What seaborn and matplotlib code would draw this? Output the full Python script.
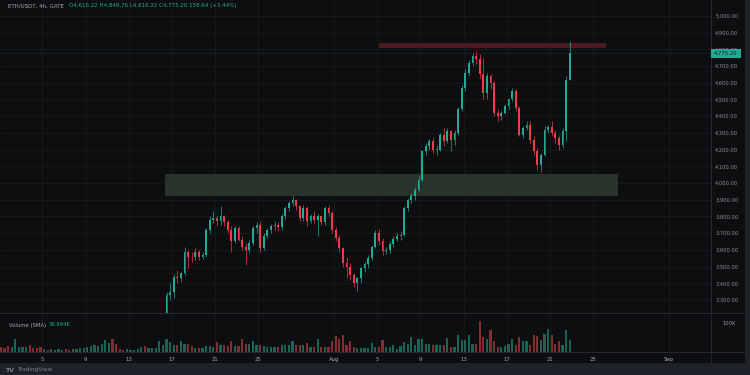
import numpy as np
import pandas as pd
import matplotlib
matplotlib.use("Agg")
import matplotlib.pyplot as plt
from matplotlib.patches import Rectangle
from matplotlib.lines import Line2D
import seaborn as sns

# ---------------- data (8h candles from Jul 1, 00:00) ----------------
first_open = 2485
closes = [
    2440, 2410, 2405, 2480, 2560, 2570, 2600, 2610, 2590, 2560, 2520, 2510,
    2520, 2515, 2515, 2530, 2550, 2570, 2560, 2540, 2540, 2560, 2590, 2610,
    2640, 2700, 2770, 2800, 2880, 2950, 3000, 2970, 2960, 2950, 2930, 2940,
    2950, 2960, 2970, 3050, 3010, 3020, 3080, 3100, 3140, 3180, 3330, 3350,
    3440, 3430, 3460, 3590, 3560, 3555, 3590, 3560, 3570, 3720, 3780, 3790,
    3770, 3800, 3765, 3720, 3650, 3730, 3660, 3620, 3600, 3640, 3730, 3750,
    3610, 3680, 3720, 3740, 3750, 3737, 3800, 3850, 3880, 3900, 3860, 3790,
    3850, 3770, 3800, 3780, 3800, 3765, 3850, 3820, 3720, 3670, 3610, 3520,
    3500, 3450, 3400, 3430, 3490, 3515, 3550, 3620, 3700, 3650, 3595, 3600,
    3635, 3665, 3680, 3690, 3850, 3900, 3925, 3960, 4020, 4190, 4220, 4250,
    4200, 4200, 4290, 4250, 4310, 4260, 4300, 4440, 4570, 4660, 4720, 4760,
    4745, 4650, 4540, 4640, 4600, 4420, 4400, 4420, 4460, 4500, 4550, 4450,
    4290, 4330, 4350, 4260, 4190, 4110, 4170, 4320, 4335, 4300, 4270, 4230,
    4310, 4616, 4775,
]
highs = [
    2500, 2450, 2430, 2490, 2575, 2590, 2620, 2630, 2615, 2600, 2570, 2535,
    2535, 2530, 2525, 2540, 2560, 2585, 2580, 2565, 2555, 2570, 2600, 2625,
    2650, 2710, 2780, 2820, 2890, 2960, 3010, 3010, 2990, 2975, 2960, 2950,
    2965, 2975, 2990, 3070, 3060, 3035, 3090, 3115, 3160, 3200, 3345, 3400,
    3455, 3480, 3470, 3620, 3600, 3590, 3610, 3600, 3590, 3730, 3800, 3830,
    3810, 3860, 3810, 3780, 3740, 3745, 3745, 3680, 3640, 3660, 3740, 3765,
    3770, 3700, 3730, 3755, 3770, 3765, 3815, 3865, 3890, 3922, 3905, 3870,
    3870, 3860, 3815, 3830, 3815, 3810, 3865, 3870, 3830, 3735, 3690, 3620,
    3560, 3520, 3460, 3440, 3500, 3530, 3570, 3630, 3720, 3725, 3670, 3620,
    3650, 3680, 3700, 3710, 3860, 3910, 3940, 3975, 4040, 4200, 4240, 4265,
    4270, 4230, 4300, 4330, 4330, 4320, 4320, 4455, 4585, 4680, 4735, 4780,
    4790, 4770, 4750, 4660, 4655, 4610, 4440, 4430, 4470, 4510, 4570, 4560,
    4460, 4340, 4370, 4370, 4280, 4210, 4180, 4340, 4350, 4370, 4320, 4290,
    4330, 4640, 4848,
]
lows = [
    2430, 2395, 2380, 2395, 2470, 2540, 2560, 2585, 2575, 2550, 2500, 2495,
    2500, 2505, 2505, 2505, 2525, 2545, 2545, 2525, 2525, 2530, 2555, 2585,
    2600, 2635, 2695, 2760, 2790, 2870, 2940, 2950, 2930, 2930, 2910, 2920,
    2925, 2940, 2950, 2965, 2995, 3000, 3000, 3060, 3085, 3120, 3170, 3300,
    3310, 3400, 3410, 3450, 3490, 3530, 3540, 3540, 3545, 3560, 3700, 3760,
    3740, 3750, 3740, 3700, 3590, 3640, 3650, 3600, 3510, 3580, 3630, 3700,
    3590, 3600, 3670, 3700, 3720, 3710, 3720, 3785, 3835, 3860, 3840, 3770,
    3770, 3740, 3760, 3760, 3680, 3750, 3750, 3800, 3700, 3650, 3590, 3500,
    3430, 3420, 3380, 3355, 3400, 3470, 3490, 3540, 3610, 3630, 3570, 3575,
    3580, 3620, 3650, 3660, 3680, 3830, 3880, 3900, 3950, 4010, 4170, 4200,
    4180, 4170, 4190, 4220, 4240, 4190, 4230, 4290, 4430, 4550, 4640, 4700,
    4710, 4630, 4500, 4500, 4560, 4400, 4370, 4380, 4410, 4440, 4490, 4430,
    4280, 4270, 4320, 4240, 4170, 4080, 4065, 4160, 4300, 4280, 4240, 4200,
    4210, 4250, 4616,
]
volumes_k = [
    17, 14, 20, 17, 45, 17, 17, 17, 24, 14, 14, 17,
    10, 7, 10, 7, 10, 7, 10, 7, 10, 10, 14, 14,
    17, 21, 24, 21, 28, 41, 31, 45, 28, 10, 7, 10,
    7, 7, 10, 17, 21, 14, 14, 14, 38, 24, 45, 35,
    24, 24, 38, 28, 28, 21, 14, 14, 14, 21, 21, 17,
    35, 24, 24, 21, 38, 21, 21, 45, 28, 28, 38, 24,
    24, 21, 17, 17, 17, 17, 24, 24, 24, 38, 24, 24,
    24, 31, 17, 17, 45, 17, 17, 17, 38, 55, 45, 59,
    24, 38, 17, 14, 14, 14, 14, 31, 17, 17, 41, 17,
    17, 24, 10, 21, 35, 28, 52, 24, 45, 45, 28, 28,
    24, 24, 24, 24, 48, 17, 17, 59, 41, 41, 59, 28,
    28, 107, 52, 45, 76, 38, 17, 17, 21, 28, 45, 24,
    52, 38, 38, 24, 59, 55, 41, 62, 79, 59, 28, 38,
    24, 76, 41,
]
price_ticks = list(range(3300, 5001, 100))
date_tick_days = [4, 8, 12, 16, 20, 24, 31, 35, 39, 43, 47, 51, 55, 62]
date_tick_labels = ["5", "9", "13", "17", "21", "25", "Aug",
                    "5", "9", "13", "17", "21", "25", "Sep"]
# zones: (start day, end day, low price, high price)
resistance_zone = (35.18, 56.19, 4805, 4835)
support_zone = (15.36, 57.31, 3924, 4054)
last_price = 4775.20
header_symbol = "ETH/USDT, 4h, GATE"
header_values = "O4,616.22 H4,848.76 L4,616.22 C4,775.20 158.64 (+3.44%)"
volume_sma = "39.994K"

# ---------------- styling ----------------
BG = "#0c0e10"
FRAME = "#1e2127"
GRID = "#171a1d"
SEP = "#262a31"
TXT = "#a9acb4"
UP = "#22ab94"
DN = "#ef3b4b"
VUP = "#1b6352"
VDN = "#822c34"

sns.set_theme(style="dark", rc={
    "axes.facecolor": BG, "figure.facecolor": FRAME,
    "grid.color": GRID, "text.color": TXT,
    "xtick.color": TXT, "ytick.color": TXT,
})
plt.rcParams["font.family"] = ["DejaVu Sans"]

df = pd.DataFrame({"close": closes, "high": highs, "low": lows, "vol": volumes_k})
df["open"] = [first_open] + closes[:-1]
df["day"] = np.arange(len(df)) / 3 + 1 / 6
df["up"] = df["close"] >= df["open"]

W, H = 750, 375
fig = plt.figure(figsize=(7.5, 3.75), dpi=100)
fig.add_artist(Rectangle((0, 12 / H), 745 / W, 363 / H, transform=fig.transFigure,
                         facecolor=BG, edgecolor="none", zorder=0))

ax = fig.add_axes([0, 62 / H, 711 / W, 313 / H])
axv = fig.add_axes([0, 23 / H, 711 / W, 39 / H], sharex=ax)

xmin, xmax = 0.9 / 10.8, 711.9 / 10.8
ax.set_xlim(xmin, xmax)
ax.set_ylim(3222.1, 5095.1)
axv.set_ylim(0, 134.5)

# zones
for (x0, x1, p0, p1), col in [(support_zone, "#2a332b"), (resistance_zone, "#4a1c20")]:
    ax.add_patch(Rectangle((x0, p0), x1 - x0, p1 - p0, facecolor=col,
                           edgecolor="none", zorder=1))

# candles
colors = np.where(df["up"], UP, DN)
ax.vlines(df["day"], df["low"], df["high"], colors=colors, lw=0.5, zorder=3)
body_bottom = df[["open", "close"]].min(axis=1)
body_h = (df["close"] - df["open"]).abs().clip(lower=3)
ax.bar(df["day"], body_h, bottom=body_bottom, width=0.18, color=colors,
       linewidth=0, zorder=4)

ax.axhline(last_price, color=UP, lw=0.5, ls=(0, (1, 2)), alpha=0.55, zorder=2)

# volume
vcolors = np.where(df["up"], VUP, VDN)
axv.bar(df["day"], df["vol"], width=0.22, color=vcolors, linewidth=0, zorder=3)

# axes styling
for a in (ax, axv):
    for s in a.spines.values():
        s.set_visible(False)
    a.set_facecolor(BG)
    a.set_xticks(date_tick_days)
    a.grid(True, axis="x", color=GRID, lw=0.6)
ax.grid(True, axis="y", color=GRID, lw=0.6)
axv.grid(False, axis="y")

ax.yaxis.tick_right()
ax.set_yticks(price_ticks)
ax.set_yticklabels([f"{v:,.2f}" for v in price_ticks])
ax.tick_params(axis="y", length=0, pad=3, labelsize=3.7, labelcolor="#8e9199")
ax.tick_params(axis="x", length=0, labelbottom=False)

axv.yaxis.tick_right()
axv.set_yticks([100])
axv.set_yticklabels(["100K"])
axv.tick_params(axis="y", length=0, pad=8, labelsize=3.7, labelcolor="#8e9199")
axv.set_xticklabels(date_tick_labels)
axv.tick_params(axis="x", length=0, pad=3.5, labelsize=3.9, labelcolor="#a3a6ae")

# separators
for y in (313, 352):
    fig.add_artist(Line2D([0, 745 / W], [1 - y / H, 1 - y / H], transform=fig.transFigure,
                          color=SEP, lw=0.7))
fig.add_artist(Line2D([711 / W, 711 / W], [12 / H, 1], transform=fig.transFigure,
                      color=SEP, lw=0.7))

# header and labels
fig.text(8 / W, 1 - 5.5 / H, header_symbol, fontsize=4, color="#a9acb4", va="center")
fig.text(69 / W, 1 - 5.5 / H, header_values, fontsize=4, color=UP, va="center")
fig.text(9 / W, 1 - 325 / H, "Volume (SMA)", fontsize=3.8, color="#a9acb4", va="center")
fig.text(49 / W, 1 - 325 / H, volume_sma, fontsize=3.8, color=UP, va="center")

# last price tag
fig.add_artist(Rectangle((711 / W, 1 - 58 / H), 30 / W, 9 / H, transform=fig.transFigure,
                         facecolor=UP, edgecolor="none", zorder=5))
fig.text(726 / W, 1 - 53.5 / H, f"{last_price:,.2f}", fontsize=3.8, color="#0c1a16",
         ha="center", va="center", zorder=6)

fig.text(5 / W, 1 - 370 / H, "TV", fontsize=4.5, color="#7c7f88", va="center",
         fontweight="bold")
fig.text(17 / W, 1 - 370 / H, "TradingView", fontsize=4.2, color="#7c7f88", va="center")

fig.savefig("out.png", dpi=100, facecolor=FRAME)
